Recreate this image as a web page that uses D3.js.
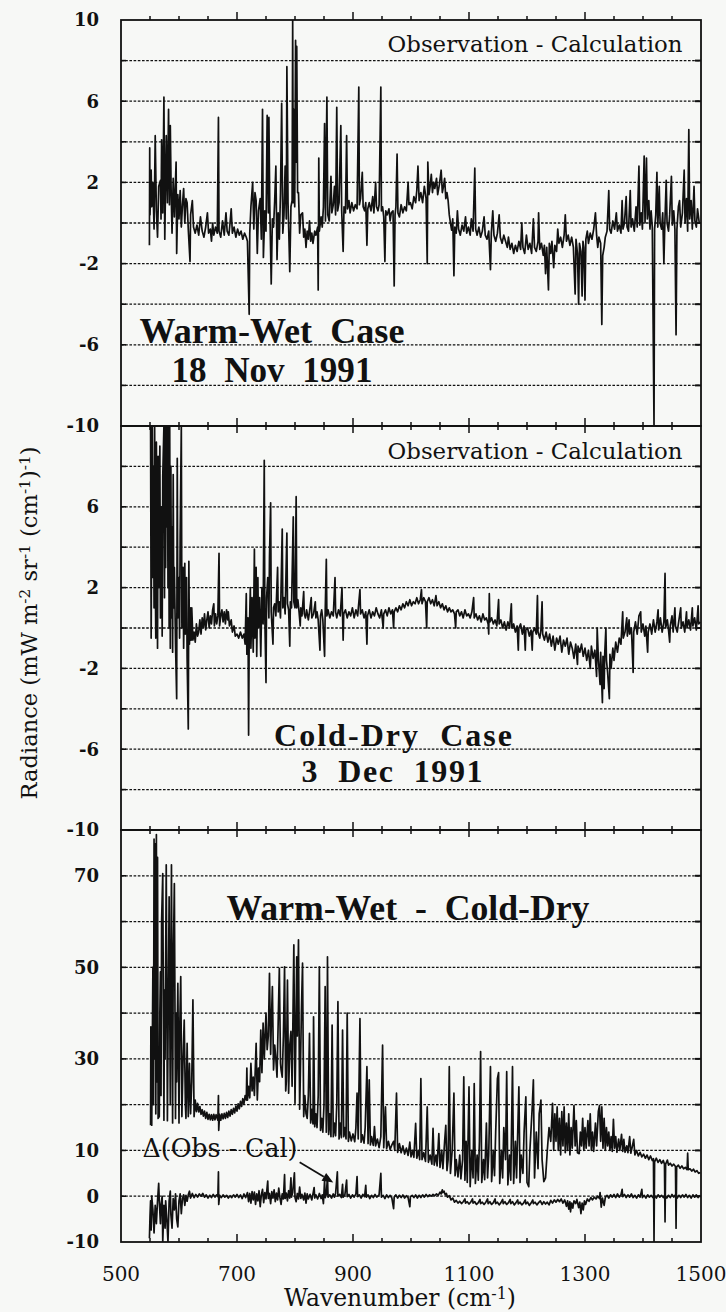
<!DOCTYPE html>
<html><head><meta charset="utf-8">
<script src="https://cdn.jsdelivr.net/npm/d3@7"></script>
<style>
html,body{margin:0;padding:0;background:#f7f8f6;}
svg{display:block;}
text{fill:#111;}
</style></head><body>
<svg id="c" width="726" height="1312"></svg>
<script>
// ---------------- data ----------------
const xLabelTicks = [500,700,900,1100,1300,1500];
const xMinorTicks = [500,550,600,650,700,750,800,850,900,950,1000,1050,1100,1150,1200,1250,1300,1350,1400,1450,1500];
const p1Labels = [10,6,2,-2,-6,-10];
const p2Labels = [6,2,-2,-6,-10];
const p3Labels = [70,50,30,10,0,-10];
const p12Grid = [-8,-6,-4,-2,0,2,4,6,8];
const p3Grid = [0,10,20,30,40,50,60,70];

// Warm-Wet case, Observation - Calculation (wavenumber, radiance)
const warmWetOC = [
[549,-1.1],[549.5,3.7],[550,0.4],[552,2.6],[553,0.8],[555,2.0],[557,-0.3],[559,4.3],[561,0.6],[563,-0.7],[565,1.8],[568,2.1],[569,0.2],[570,4.1],[572,0.5],[574,6.2],[575.5,-0.8],[578,4.3],[580,1.0],[582,5.6],[583.5,0.9],[585,4.8],[586.5,1.5],[588,-0.5],[590,2.2],[592,0.3],[595,3.0],[596,-1.5],[598,1.4],[600,0.2],[602,1.6],[604,-0.2],[606,0.9],[608,1.7],[610,0.0],[612,1.2],[614,1.0],[616,-0.3],[619,-1.9],[620,0.4],[623,1.1],[625,-0.2],[628,-0.5],[631,-0.1],[634,-0.6],[637,0.3],[640,-0.4],[643,-0.7],[646,-0.2],[649,0.5],[651,-0.5],[654,-0.3],[656,-0.9],[658,0.0],[660,-0.6],[663,-0.2],[666,-0.5],[668,5.2],[669,-0.4],[672,-0.7],[675,0.1],[678,-0.6],[681,0.5],[683,-0.4],[686,-0.6],[688,0.0],[690,0.7],[692,-0.5],[695,-0.2],[698,-0.7],[701,-0.3],[704,-0.6],[707,-0.4],[710,-0.8],[713,-0.5],[716,-0.7],[718,-0.9],[721,-4.5],[722,-0.5],[724,0.8],[727,2.0],[729,-0.3],[731,1.5],[733,1.1],[735,-1.5],[737,0.6],[740,1.2],[742,-0.8],[744,5.6],[745.5,-1.7],[748,0.6],[750,-0.4],[752,5.3],[754,0.5],[755,5.2],[756.5,0.9],[759,-3.0],[761,0.2],[763,-0.2],[765,1.1],[767,2.8],[769,-1.8],[771,0.5],[773,-0.8],[775,1.5],[777,5.9],[779,-0.5],[781,0.4],[783,2.8],[785,0.2],[786,7.7],[788,1.0],[791,-2.4],[793,0.8],[795,1.1],[796,10],[797,1.0],[798,5.6],[799.5,0.8],[801,9.0],[802,3.0],[803,8.7],[804.5,1.5],[806,1.5],[808,-0.5],[810,0.4],[813,0.5],[815,-0.7],[817,-0.3],[819,-1.2],[821,-0.4],[823,-0.8],[825,0.1],[827,-0.9],[829,-0.5],[831,-1.0],[834,-0.4],[836,-0.6],[839,-0.2],[840,-3.3],[841,3.2],[842,-0.4],[845,0.3],[847,-0.2],[849,0.8],[851,4.9],[852.5,0.1],[855,6.2],[856.5,0.4],[859,0.1],[862,2.3],[863.5,0.5],[866,0.9],[868,1.8],[870,0.4],[872,5.7],[873.5,0.6],[876,1.0],[879,4.8],[880.5,0.6],[883,-1.4],[884.5,0.8],[887,0.5],[889,4.3],[890.5,0.7],[893,1.1],[895,0.5],[898,1.0],[901,0.6],[904,0.9],[907,0.7],[910,6.7],[911,0.9],[913,1.2],[916,2.5],[917.5,0.8],[920,0.6],[922,1.0],[924,-1.1],[925.5,0.7],[928,1.0],[931,0.6],[934,1.3],[936,0.5],[939,2.0],[940.5,0.8],[943,0.6],[945,0.9],[948,6.7],[949,0.6],[951,0.8],[953,0.3],[955,-1.9],[956.5,0.6],[959,0.4],[962,0.7],[964,0.1],[966,0.5],[969,0.6],[971,-3.1],[972.5,0.4],[974,0.8],[976,3.4],[977.5,0.5],[980,0.3],[983,0.9],[986,0.5],[989,0.8],[992,0.6],[995,2.0],[996.5,0.9],[999,1.0],[1002,0.7],[1005,1.3],[1008,1.0],[1010,1.6],[1012,2.8],[1014,1.1],[1017,1.5],[1020,1.0],[1023,1.8],[1026,1.2],[1028,-2.0],[1029,3.0],[1031,1.4],[1033,1.8],[1035,2.4],[1037,1.5],[1039,2.0],[1041,1.7],[1044,2.2],[1046,1.4],[1049,1.9],[1052,2.6],[1054,1.5],[1056,1.8],[1058,2.2],[1060,1.2],[1062,1.5],[1064,1.1],[1066,0.4],[1068,0.0],[1070,-0.35],[1072,0.2],[1074,-2.6],[1075.5,-0.2],[1078,-0.5],[1080,0.6],[1082,-0.3],[1085,-0.6],[1088,-0.1],[1091,-0.4],[1094,0.3],[1096,-0.5],[1099,-0.2],[1102,-0.6],[1104,0.2],[1107,-0.4],[1110,2.7],[1111.5,-0.3],[1114,-0.6],[1117,-0.2],[1120,-0.7],[1123,-0.4],[1126,0.3],[1128,-0.6],[1131,-0.8],[1134,-0.4],[1137,-2.3],[1138.5,-0.5],[1141,0.6],[1143,-0.6],[1146,-0.9],[1149,-0.5],[1152,0.4],[1154,-0.7],[1157,-1.0],[1160,-0.6],[1163,-0.9],[1166,-1.2],[1168,-0.7],[1171,-1.3],[1174,-1.0],[1177,-1.5],[1180,-1.1],[1183,-1.4],[1186,-0.9],[1189,-1.3],[1191,0.0],[1193,-1.2],[1196,-1.5],[1199,-0.6],[1202,-1.3],[1205,-1.0],[1208,-1.5],[1211,0.2],[1213,-1.2],[1216,-1.4],[1219,-0.9],[1220,0.5],[1222,-1.3],[1225,-1.0],[1228,-1.6],[1230,-1.1],[1232,-2.5],[1234,-1.2],[1237,-3.3],[1238.5,-1.0],[1241,-1.5],[1243,-0.9],[1246,-2.2],[1248,-1.1],[1251,-1.4],[1253,-0.3],[1255,-1.0],[1258,-0.7],[1261,-1.2],[1264,-0.6],[1266,0.4],[1268,-0.9],[1271,-0.6],[1274,-1.1],[1277,-0.7],[1280,-1.2],[1283,-3.5],[1284.5,-0.8],[1287,-1.5],[1289,-4.0],[1290.5,-1.0],[1293,-1.4],[1295,-3.6],[1296.5,-0.9],[1298,-1.2],[1300,-3.8],[1301.5,-0.8],[1304,-0.4],[1306,-1.0],[1309,-0.5],[1312,-0.8],[1315,-0.3],[1318,0.5],[1320,-0.6],[1322,-1.2],[1324,-0.7],[1327,-1.0],[1329,-5.0],[1330.5,-1.6],[1333,-1.2],[1335,-0.7],[1338,-0.4],[1341,1.6],[1342.5,-0.3],[1345,-0.5],[1348,0.1],[1351,-0.3],[1354,0.5],[1356,-0.4],[1359,-0.1],[1362,-0.5],[1364,1.1],[1365.5,-0.3],[1368,0.0],[1371,1.3],[1372.5,-0.2],[1375,-0.4],[1378,1.6],[1379.5,-0.2],[1382,0.2],[1385,-0.4],[1388,0.8],[1390,-0.2],[1393,2.8],[1394.5,-0.1],[1397,0.5],[1399,-0.3],[1402,3.3],[1403.5,0.0],[1406,3.2],[1407.5,0.2],[1410,1.1],[1412,-0.3],[1414,0.6],[1416,-0.2],[1419,-10],[1420,-0.3],[1422,0.4],[1424,2.5],[1425.5,-0.2],[1428,1.8],[1429.5,0.0],[1432,-0.3],[1434,0.5],[1436,-2.0],[1437.5,-0.2],[1440,2.1],[1441.5,0.0],[1444,-0.4],[1446,0.4],[1449,2.3],[1450.5,-0.1],[1453,0.6],[1455,-0.3],[1457,-5.5],[1458.5,-0.3],[1461,0.8],[1463,1.1],[1465,-0.2],[1468,0.5],[1471,2.6],[1472.5,0.0],[1475,1.2],[1477,-0.4],[1479,4.6],[1480.5,0.2],[1483,1.1],[1485,-0.3],[1488,1.8],[1489.5,0.1],[1492,-0.2],[1494,0.7],[1497,0.0]
];

// Cold-Dry case, Observation - Calculation
const coldDryOC = [
[551,10],[552,-0.5],[553,6.0],[554,10],[555,2.5],[556,8.0],[557,1.0],[558,10],[559,3.0],[560,-0.5],[561,9.2],[562,4.0],[563,-1.0],[564,8.5],[565,2.0],[567,9.0],[568,0.5],[570,6.0],[571,-0.4],[572,7.5],[574,10],[575,1.5],[576,10],[577,3.0],[578,10],[579,5.0],[580,10],[581,2.0],[582,10],[583,0.0],[584,10],[585,-1.0],[586,8.0],[587,0.5],[588,5.0],[589,-1.2],[590,7.6],[591,1.0],[592,3.0],[594,-0.8],[596,-3.5],[597,8.4],[598,0.5],[600,2.5],[601,-0.5],[602,4.5],[604,10],[605,0.0],[607,3.0],[608,-1.0],[610,3.2],[611,-0.3],[613,2.5],[614,-1.5],[616,-5.0],[617,3.3],[618,-0.8],[620,1.0],[621,-0.6],[622,1.0],[624,-0.6],[626,-0.2],[628,-0.7],[630,0.2],[632,-0.4],[634,-0.2],[636,0.4],[638,-0.3],[640,0.5],[642,0.0],[644,0.7],[646,-0.1],[648,0.4],[650,0.8],[652,0.0],[654,0.6],[656,0.2],[658,0.9],[660,1.2],[661,0.1],[663,0.7],[665,0.2],[667,0.6],[669,3.7],[670,0.1],[672,0.6],[674,0.9],[676,0.3],[678,0.8],[680,0.2],[682,0.9],[684,0.4],[685,0.8],[687,0.1],[690,0.4],[692,-0.2],[695,0.1],[697,-0.4],[700,-0.3],[703,-0.5],[706,-0.2],[709,-0.5],[712,-0.3],[714,-0.8],[716,1.7],[717,-1.3],[719,0.5],[720,-5.3],[721,-0.5],[723,2.0],[724,-1.0],[726,1.5],[728,-1.2],[730,3.9],[731,-0.5],[733,3.0],[734,-1.4],[736,2.5],[737,0.0],[739,1.5],[741,-1.4],[743,2.0],[745,0.2],[747,8.3],[748,0.5],[750,-2.7],[751,1.5],[753,2.5],[755,0.5],[756,3.5],[758,6.2],[759,0.8],[762,-0.8],[763,1.0],[765,1.2],[767,0.6],[770,3.0],[771,0.8],[773,1.3],[775,0.5],[778,4.9],[779,1.0],[781,1.5],[783,0.7],[786,4.7],[787,1.2],[789,0.9],[791,-0.9],[792,1.3],[794,1.0],[797,5.5],[798,1.3],[800,1.0],[802,6.5],[803,1.0],[805,1.4],[807,0.8],[809,0.1],[810,1.0],[812,0.6],[815,1.8],[816,0.7],[818,0.5],[820,0.9],[823,0.4],[825,0.8],[828,1.5],[829,0.5],[832,0.7],[835,1.3],[836,0.5],[838,0.8],[840,0.4],[843,-1.1],[844,0.6],[846,0.9],[848,0.4],[851,-1.4],[852,0.7],[854,3.4],[855,0.6],[857,0.9],[860,0.5],[863,0.8],[866,0.6],[869,2.5],[870,0.8],[872,0.5],[875,0.9],[878,0.6],[881,2.0],[882,0.6],[883,-0.6],[884,0.7],[887,0.9],[890,0.5],[893,0.8],[896,0.6],[899,1.0],[902,0.5],[905,0.9],[908,0.6],[912,1.9],[913,0.7],[916,0.9],[919,0.5],[922,0.8],[924,-0.8],[925,0.6],[928,0.9],[931,0.5],[934,0.8],[937,0.6],[940,1.0],[943,0.7],[946,0.5],[949,0.9],[952,0.0],[953,0.7],[956,0.9],[959,0.6],[962,1.0],[965,0.7],[968,0.9],[970,0.0],[971,0.8],[974,1.0],[977,0.8],[980,1.1],[983,0.9],[986,1.2],[989,1.0],[992,1.3],[995,1.1],[998,1.4],[1001,1.1],[1004,1.3],[1007,1.2],[1010,1.5],[1013,1.2],[1016,1.4],[1018,1.9],[1019,1.2],[1022,1.5],[1025,1.3],[1027,0.0],[1028,1.3],[1031,1.5],[1034,1.2],[1037,1.4],[1040,1.1],[1043,1.6],[1045,1.1],[1048,1.3],[1051,1.0],[1054,1.2],[1057,0.9],[1060,1.1],[1063,0.8],[1066,1.0],[1069,0.8],[1072,0.9],[1075,0.7],[1077,0.0],[1078,0.8],[1081,0.9],[1084,0.6],[1087,0.8],[1090,0.5],[1093,0.9],[1096,0.6],[1099,0.7],[1102,0.5],[1105,0.8],[1108,1.5],[1109,0.5],[1112,0.7],[1115,0.4],[1118,0.6],[1121,0.3],[1124,0.7],[1127,0.4],[1130,0.5],[1133,0.2],[1134,-0.3],[1135,1.7],[1136,0.3],[1139,0.5],[1142,0.2],[1145,0.4],[1148,0.1],[1151,1.4],[1152,0.2],[1155,0.4],[1158,0.0],[1161,0.3],[1164,-0.1],[1167,0.3],[1170,0.0],[1173,1.2],[1174,0.0],[1177,0.2],[1180,-0.2],[1183,0.1],[1185,-1.1],[1186,0.0],[1189,0.2],[1192,-0.3],[1195,0.1],[1197,-1.1],[1198,-0.1],[1201,0.0],[1204,-0.4],[1207,-0.1],[1209,-1.1],[1210,-0.2],[1213,0.0],[1216,-0.3],[1218,1.6],[1219,-0.2],[1222,-0.5],[1224,-0.1],[1226,1.3],[1227,-0.3],[1230,-0.6],[1233,-0.2],[1236,-0.7],[1239,-0.3],[1242,-0.9],[1245,-0.4],[1248,-1.1],[1251,-0.5],[1254,-0.8],[1257,-0.4],[1260,-1.2],[1263,-0.6],[1266,-0.9],[1269,-0.5],[1272,-1.3],[1275,-0.7],[1278,-1.0],[1281,-1.5],[1284,-0.8],[1287,-1.8],[1288,-0.9],[1291,-1.2],[1294,-0.8],[1297,-1.4],[1300,-1.0],[1303,-1.6],[1306,-1.1],[1309,-2.0],[1311,-0.9],[1314,-1.5],[1317,-1.1],[1320,-2.4],[1321,0.0],[1323,-1.5],[1326,-2.8],[1327,-1.2],[1330,-3.7],[1331,-1.4],[1333,-3.0],[1334,-1.3],[1336,0.0],[1337,-1.6],[1339,-2.2],[1342,-3.5],[1343,-1.3],[1345,-2.0],[1348,-1.0],[1350,-1.6],[1353,-0.7],[1356,-1.2],[1359,-0.5],[1362,-0.8],[1365,0.8],[1366,-0.5],[1369,-0.2],[1372,0.5],[1373,-0.4],[1376,0.4],[1377,-0.3],[1380,0.0],[1383,-2.2],[1384,-0.2],[1387,0.3],[1390,-0.3],[1393,0.6],[1396,0.8],[1397,-0.2],[1400,0.2],[1403,-0.4],[1405,0.1],[1408,-1.2],[1409,-0.2],[1412,0.2],[1415,-0.3],[1418,0.4],[1421,-0.2],[1424,0.3],[1426,0.9],[1427,-0.1],[1430,0.5],[1433,-0.2],[1436,0.3],[1438,2.7],[1439,0.0],[1442,0.4],[1444,-0.1],[1446,-0.7],[1447,0.1],[1450,0.6],[1452,-0.2],[1455,1.0],[1456,0.1],[1459,-0.2],[1462,0.4],[1465,1.0],[1466,0.0],[1469,0.3],[1472,-0.2],[1475,0.8],[1476,0.0],[1479,0.4],[1482,-0.1],[1485,1.0],[1486,0.1],[1489,0.5],[1492,-0.1],[1495,1.1],[1496,0.2],[1499,0.3]
];

// Warm-Wet minus Cold-Dry (observed)
const warmMinusCold = [
[551,15.5],[551.5,37],[553,15.5],[555,50],[556,20],[557,78],[558,30],[559,77],[560,18],[561,79],[562,25],[563,74],[564,17],[566,17.4],[567,40],[568,49],[569,22],[570,60],[572,70.5],[574,16.6],[575,45],[576,30],[578,72.4],[580,16.5],[582,50],[583,65.4],[585,20],[587,72.4],[589,16],[590,50],[592,68.3],[594,17],[595,40],[596,25],[598,46.5],[600,16],[601,35],[603,48],[605,17.4],[607,30],[609,38.5],[611,20],[612,17],[614,33.4],[616,17.4],[618,29],[620,18],[622,25],[624,42.9],[626,17.4],[628,21],[630,18.5],[632,20.3],[634,18.4],[636,19.6],[638,17.9],[640,18.9],[642,17.5],[644,18.6],[646,17.0],[648,18.3],[650,16.8],[652,17.9],[654,16.7],[656,17.8],[658,16.6],[660,17.9],[662,16.7],[664,17.8],[667,16.6],[668,22],[668.5,14.4],[670,17.9],[672,16.6],[674,18.0],[676,16.9],[678,18.1],[680,17.0],[682,18.3],[684,17.2],[686,18.6],[688,17.5],[690,18.9],[692,17.9],[694,19.2],[696,18.2],[698,19.7],[700,18.6],[702,20.2],[704,19.1],[706,20.7],[708,19.6],[710,21.3],[712,20.2],[714,22.0],[716,21.0],[717,28],[718,21],[720,24],[722,21.5],[724,29],[726,23],[728,26],[730,22],[733,33.4],[735,21],[737,28],[739,25],[741,36.3],[743,27],[745,37.8],[747,30],[750,40],[752,32],[754,35],[756,48.7],[758,31],[759,37],[761,45.8],[763,27.6],[765,33],[767,30],[769,26],[771,38],[773,49.8],[775,29],[776,27.6],[778,26],[780,35],[782,50.1],[784,23],[785,25],[787,47.2],[789,22.5],[791,33],[793,36],[795,24],[798,54.9],[800,20.3],[801,30],[803,52.3],[804,35],[806,56],[808,19],[809,25],[811,40],[813,50.9],[815,17.4],[817,22],[819,18],[821,17],[823,22],[825,35.6],[827,16],[829,19],[831,15.8],[832,39.2],[834,15.2],[836,18],[838,15],[840,22],[842,50.1],[844,14.4],[846,17],[848,14],[850,20],[852,45.8],[854,14],[855,20],[856,52.3],[858,13.5],[860,18],[862,13],[864,37.4],[866,13],[868,16],[870,13.2],[872,20],[874,42.5],[876,12.5],[878,16],[880,12.8],[882,36.3],[884,13],[886,15],[888,12.5],[890,40],[892,12],[894,14],[897,12.1],[900,13.6],[903,11.9],[905,15],[907,22.5],[909,12.5],[912,38.8],[914,11.8],[916,13.4],[919,11.6],[921,15],[924,28.3],[926,11.5],[928,25.4],[930,11.2],[932,13],[935,11.1],[937,15.2],[939,11],[942,12.5],[945,10.6],[948,13],[951,33],[953,10.6],[956,19.5],[958,10.4],[961,12],[964,10.2],[967,11.2],[970,12],[972,10],[975,22.5],[977,9.6],[980,11.5],[983,9.5],[986,11],[989,9.2],[992,10.5],[995,8.9],[998,11.8],[1000,8.6],[1003,10],[1005,8.5],[1008,15.9],[1010,8.3],[1013,10],[1015,8.0],[1017,25.7],[1019,8.0],[1022,9.5],[1025,7.6],[1028,19.5],[1030,7.4],[1033,9],[1036,7.0],[1038,14.8],[1040,6.8],[1043,9],[1045,6.6],[1048,13.7],[1050,6.3],[1053,10],[1055,6.0],[1058,12],[1060,15.5],[1062,5.6],[1064,8],[1066,28.3],[1068,5.0],[1071,10],[1074,22.5],[1076,4.5],[1078,8],[1081,4.2],[1084,9],[1086,3.8],[1089,8],[1091,26.1],[1093,3.5],[1095,12],[1097,3.0],[1100,23.9],[1102,2.1],[1105,10],[1107,4.0],[1109,24.6],[1111,2.8],[1114,9],[1116,3.5],[1118,12],[1120,31.6],[1122,3.0],[1125,8],[1127,3.6],[1130,16],[1132,4.0],[1134,9],[1137,28.3],[1139,3.2],[1142,10],[1144,4.5],[1146,14],[1149,25.7],[1151,27],[1153,2.8],[1156,10],[1158,4.0],[1160,15],[1163,8],[1165,27.2],[1167,2.5],[1170,9],[1172,3.5],[1175,28.3],[1177,2.8],[1180,12],[1182,4.0],[1186,23.9],[1188,3.0],[1190,9],[1193,5],[1195,14],[1198,21.7],[1200,3.0],[1203,2.1],[1205,10],[1209,19.5],[1211,25.4],[1213,4],[1216,14],[1219,6],[1221,18],[1224,21],[1226,8],[1229,3.2],[1232,4],[1235,10],[1238,15],[1241,12],[1244,20.3],[1246,10],[1248,18],[1250,12],[1252,19.5],[1254,10],[1256,17],[1258,9],[1260,18.5],[1262,11],[1264,19.5],[1266,9.5],[1268,16],[1270,10],[1272,18],[1274,9],[1276,15],[1278,10.5],[1281,19.8],[1283,11],[1285,16.5],[1287,9.5],[1290,9.3],[1292,14],[1294,11],[1296,17],[1298,10],[1300,15],[1302,10.5],[1305,16.5],[1307,11],[1309,18],[1311,10],[1313,14],[1315,9.8],[1318,16],[1320,11],[1323,18.5],[1325,19.8],[1327,12],[1329,19.5],[1331,10.5],[1333,17],[1335,10],[1337,15],[1339,11],[1341,14],[1343,10],[1345,13],[1347,9.8],[1349,16.8],[1351,10.5],[1353,13],[1355,9.6],[1358,12.5],[1360,10],[1363,13.5],[1365,9.8],[1367,12.4],[1369,9.6],[1372,11],[1374,9.5],[1377,13],[1379,9.4],[1381,10.5],[1384,12.4],[1386,9.0],[1389,10],[1392,8.8],[1395,9.6],[1398,8.6],[1401,9.2],[1404,8.3],[1407,9.0],[1410,8.0],[1413,8.8],[1416,7.8],[1418,8.2],[1419,-10],[1420,7.5],[1423,8.3],[1426,7.4],[1429,8.0],[1432,7.2],[1435,7.8],[1437,7.0],[1438,-5.6],[1439,7.0],[1442,7.9],[1444,6.8],[1447,7.2],[1450,6.6],[1453,7.0],[1456,6.5],[1457,-7.0],[1458,6.4],[1461,6.8],[1464,6.1],[1467,6.6],[1470,6.0],[1473,6.3],[1476,5.8],[1477,9.4],[1478,5.8],[1481,6.0],[1484,5.5],[1487,5.9],[1490,5.3],[1493,5.6],[1496,5.0],[1499,5.2]
];

// Delta(Obs - Cal)
const deltaObsCal = [
[549,-9.2],[550,-4.5],[551,-1],[552,-7.4],[553,0],[555,-3],[557,-8],[559,-2],[561,-6],[563,-1],[565,2.8],[566,-1],[568,-6],[569,-2],[571,0],[572,-10],[574,-2],[576,-7],[577,-1],[579,-5],[581,-10],[583,-1],[585,1.1],[586,-4],[588,-7],[590,-0.5],[592,-3],[594,0.5],[596,-5],[598,-6.7],[600,-1],[602,0.5],[604,-3.8],[606,-0.5],[608,0.3],[610,-2],[612,0.2],[614,-1.1],[616,0.3],[618,1.1],[620,-0.4],[623,0.6],[626,-0.3],[629,0.4],[632,-0.2],[635,0.5],[638,0.0],[641,0.6],[644,-0.2],[647,0.3],[650,-0.4],[653,0.2],[656,-0.3],[659,0.4],[662,-0.2],[665,0.3],[667,-0.1],[668,5.3],[668.5,-1.8],[670,0.2],[673,-0.3],[676,0.3],[679,-0.2],[682,0.2],[685,-0.4],[688,0.1],[691,-0.3],[694,0.3],[697,-0.2],[700,0.4],[703,-0.3],[706,0.3],[709,-0.5],[712,0.5],[715,-0.3],[718,0.8],[720,-1.2],[722,0.6],[724,-1.5],[726,1.0],[728,-0.8],[730,0.9],[732,-1.8],[734,0.5],[736,-1.0],[738,1.2],[740,-2.3],[742,0.3],[744,1.5],[746,-1.4],[748,0.8],[750,-0.6],[753,3.3],[754,-0.5],[756,0.6],[758,-1.6],[760,1.0],[762,-0.4],[764,1.4],[766,-1.2],[768,0.7],[770,-0.8],[772,1.8],[774,-0.3],[776,-1.8],[778,0.5],[780,-0.6],[782,4.7],[783,-0.5],[785,0.7],[787,-1.0],[789,1.2],[791,-0.4],[793,4.0],[794,-0.2],[796,0.8],[799,5.1],[800,-0.3],[802,-1.2],[804,0.6],[806,-0.6],[808,2.0],[810,-0.5],[812,0.4],[815,-0.8],[817,0.7],[819,-1.5],[821,0.5],[823,-0.6],[826,0.4],[829,-0.8],[831,0.5],[833,1.9],[834,-0.4],[836,0.3],[839,-0.6],[842,0.6],[845,-0.5],[847,0.3],[849,-1.6],[851,3.5],[852,-0.3],[854,0.4],[856,4.3],[857,-0.2],[860,0.3],[863,-0.4],[866,0.5],[868,-0.2],[870,0.6],[873,5.3],[874,0.0],[877,0.4],[880,-0.3],[882,2.6],[883,-0.2],[886,0.3],[889,3.5],[890,-0.1],[893,0.4],[896,-0.4],[899,0.3],[902,-0.2],[905,0.5],[907,4.3],[908,-0.1],[911,0.3],[914,-0.4],[917,0.4],[920,-0.1],[922,2.4],[923,-0.2],[926,0.3],[929,-0.5],[932,0.2],[935,-0.3],[938,0.4],[941,-0.2],[945,0.3],[948,5.0],[949,-0.2],[952,0.2],[955,-0.5],[958,0.3],[961,-0.3],[964,0.2],[967,-0.4],[970,-2.7],[971,-0.2],[974,0.3],[977,-0.4],[980,0.2],[983,-0.3],[986,0.3],[989,-0.4],[992,0.1],[995,-0.3],[998,-2.3],[999,-0.1],[1002,0.2],[1005,-0.3],[1008,0.3],[1011,-0.4],[1014,0.2],[1017,-0.3],[1020,0.3],[1023,-0.2],[1026,0.4],[1029,-0.1],[1032,0.3],[1035,0.0],[1038,0.4],[1041,0.1],[1044,0.5],[1047,0.2],[1050,0.9],[1052,0.5],[1054,1.4],[1055,0.8],[1057,1.1],[1059,0.3],[1061,0.6],[1063,-0.2],[1066,0.1],[1069,-0.8],[1072,-0.4],[1075,-1.3],[1078,-0.9],[1081,-1.5],[1084,-1.1],[1087,-1.6],[1090,-1.2],[1093,-0.6],[1094,-1.5],[1097,-1.2],[1100,-1.7],[1103,-1.3],[1106,-0.6],[1107,-1.5],[1110,-1.2],[1113,-1.8],[1116,-1.4],[1119,-0.7],[1120,-1.6],[1123,-1.3],[1126,-1.8],[1129,-1.3],[1132,-0.6],[1133,-1.6],[1136,-1.2],[1139,-1.8],[1142,-1.4],[1145,-0.6],[1146,-1.6],[1149,-1.3],[1152,-1.9],[1155,-1.4],[1158,-0.7],[1159,-1.6],[1162,-1.2],[1165,-1.8],[1168,-1.4],[1171,-0.7],[1172,-1.6],[1175,-1.2],[1178,-1.9],[1181,-1.4],[1184,-0.8],[1185,-1.7],[1188,-1.3],[1191,-1.9],[1194,-1.5],[1197,-0.8],[1198,-1.7],[1201,-1.3],[1204,-2.0],[1207,-1.5],[1210,-0.8],[1211,-1.6],[1214,-1.3],[1217,-1.9],[1220,-1.4],[1223,-1.0],[1226,-1.8],[1229,-1.2],[1232,-1.7],[1235,-1.3],[1238,-1.9],[1241,-0.9],[1244,-1.5],[1247,-0.8],[1250,-1.3],[1253,-0.7],[1256,-1.2],[1259,-0.6],[1262,-1.5],[1265,-0.8],[1268,-2.2],[1270,-1.0],[1272,-2.8],[1274,-1.2],[1275,-3.4],[1277,-1.5],[1279,-2.6],[1281,-1.0],[1284,-1.6],[1286,-0.7],[1289,-2.5],[1291,-1.3],[1293,-3.8],[1295,-1.5],[1297,-3.0],[1299,-1.0],[1301,-1.8],[1304,-0.6],[1307,-1.1],[1310,-0.3],[1313,-0.8],[1316,-0.2],[1319,-0.6],[1322,0.0],[1325,-0.5],[1326,0.8],[1328,-2.4],[1330,-0.4],[1333,-2.0],[1335,-0.3],[1338,0.2],[1341,-0.4],[1344,0.3],[1347,-0.2],[1350,0.4],[1353,-0.3],[1356,0.5],[1359,-0.2],[1362,0.3],[1364,1.5],[1365,-0.1],[1368,0.4],[1371,-0.3],[1374,0.3],[1377,-0.2],[1380,0.5],[1383,-0.3],[1386,0.2],[1389,-0.4],[1392,0.3],[1395,-0.2],[1398,1.5],[1399,-0.3],[1402,0.2],[1405,-0.4],[1408,0.3],[1411,-0.2],[1414,0.2],[1417,-0.3],[1420,0.1],[1423,-0.4],[1426,0.3],[1429,-0.2],[1432,0.2],[1435,-0.3],[1438,0.3],[1441,-0.4],[1444,0.2],[1447,-0.3],[1450,0.4],[1453,-0.2],[1456,0.3],[1459,-0.4],[1462,0.2],[1465,-0.3],[1468,0.3],[1471,-0.2],[1474,0.4],[1477,-0.3],[1480,0.2],[1483,-0.4],[1486,0.3],[1489,-0.2],[1492,0.3],[1495,-0.3],[1498,0.2]
];

// annotation arrow: from / to (wavenumber, value) in the bottom panel
const arrowFrom = [808, 7.4];
const arrowTo = [866, 3.0];

// ---------------- drawing ----------------
const svg = d3.select('#c');
const L = 121, R = 701;
const x = d3.scaleLinear().domain([500,1500]).range([L,R]);
const panels = [
  {top:20, bottom:426, domain:[-10,10], grid:p12Grid, labels:p1Labels, data:[warmWetOC]},
  {top:426, bottom:830, domain:[-10,10], grid:p12Grid, labels:p2Labels, data:[coldDryOC]},
  {top:830, bottom:1242, domain:[-10,80], grid:p3Grid, labels:p3Labels, data:[warmMinusCold, deltaObsCal]}
];
const serif = "'DejaVu Serif', 'Liberation Serif', serif";
const bold = "'Liberation Serif', 'DejaVu Serif', serif";
const ink = '#111';

svg.append('rect').attr('width',726).attr('height',1312).attr('fill','#f7f8f6');

panels.forEach((p,i)=>{
  p.y = d3.scaleLinear().domain(p.domain).range([p.bottom,p.top]);
  const g = svg.append('g');
  g.selectAll('line.grid').data(p.grid).join('line')
    .attr('x1',L).attr('x2',R).attr('y1',d=>p.y(d)).attr('y2',d=>p.y(d))
    .attr('stroke',ink).attr('stroke-width',1.3).attr('stroke-dasharray','2.6,1.6');
  g.selectAll('line.yl').data(p.grid).join('line')
    .attr('x1',L).attr('x2',L+5).attr('y1',d=>p.y(d)).attr('y2',d=>p.y(d))
    .attr('stroke',ink).attr('stroke-width',1.6);
  g.selectAll('line.yr').data(p.grid).join('line')
    .attr('x1',R-6).attr('x2',R).attr('y1',d=>p.y(d)).attr('y2',d=>p.y(d))
    .attr('stroke',ink).attr('stroke-width',2);
  const cid = 'clip'+i;
  svg.append('clipPath').attr('id',cid).append('rect')
    .attr('x',L).attr('y',p.top).attr('width',R-L).attr('height',p.bottom-p.top);
  const line = d3.line().x(d=>x(d[0])).y(d=>p.y(d[1]));
  p.data.forEach(ser=>{
    g.append('path').datum(ser).attr('d',line).attr('clip-path',`url(#${cid})`)
      .attr('fill','none').attr('stroke',ink).attr('stroke-width',1.7)
      .attr('stroke-linejoin','round');
  });
  g.append('rect').attr('x',L).attr('y',p.top).attr('width',R-L).attr('height',p.bottom-p.top)
    .attr('fill','none').attr('stroke',ink).attr('stroke-width',1.8);
  g.selectAll('text.yt').data(p.labels).join('text')
    .attr('x',L-22).attr('y',d=>p.y(d)).attr('dy','0.36em')
    .attr('text-anchor','end').attr('font-family',serif).attr('font-weight','bold')
    .attr('font-size',18).text(d=>d);
});

// x ticks along each horizontal border
const borders = [
  {y:20, up:true, down:false},
  {y:426, up:true, down:true},
  {y:830, up:true, down:true},
  {y:1242, up:true, down:false}
];
borders.forEach(b=>{
  svg.append('g').selectAll('line').data(xMinorTicks.filter(t=>t>500 && t<1500)).join('line')
    .attr('x1',d=>x(d)).attr('x2',d=>x(d))
    .attr('y1',d=> b.y - (b.up ? (xLabelTicks.includes(d)?8:4) : 0))
    .attr('y2',d=> b.y + (b.down ? (xLabelTicks.includes(d)?7:4) : 0))
    .attr('stroke',ink).attr('stroke-width',1.5);
});

// x tick labels
svg.append('g').selectAll('text').data(xLabelTicks).join('text')
  .attr('x',d=>x(d)).attr('y',1281).attr('text-anchor','middle')
  .attr('font-family',serif).attr('font-size',20).text(d=>d);

// fit a text/tspan to a target width; optional max font size (then spacing fills the width)
function fit(sel, target, maxSize){
  const n = sel.node();
  const len = n.getComputedTextLength();
  const fs = parseFloat(sel.attr('font-size'));
  if (len>0){
    let f = fs*target/len;
    if (maxSize && f>maxSize){
      f = maxSize;
      sel.attr('textLength',target).attr('lengthAdjust','spacing');
    }
    sel.attr('font-size', f.toFixed(2));
  }
  return sel;
}
function caption(lines, fam, weight){
  const t = svg.append('text').attr('text-anchor','middle')
    .attr('font-family',fam).attr('font-weight',weight).style('white-space','pre');
  lines.forEach(l=>{
    const s = t.append('tspan').attr('x',l.cx).attr('y',l.by).attr('font-size',l.size).text(l.txt);
    fit(s, l.w, l.max);
  });
  return t;
}
caption([{txt:'Observation - Calculation', cx:535, by:52, size:18, w:295}], serif, 'normal');
caption([{txt:'Observation - Calculation', cx:535, by:459, size:18, w:295}], serif, 'normal');
caption([{txt:'Warm-Wet  Case', cx:272, by:343, size:34, w:265},
         {txt:'18  Nov  1991', cx:272, by:382, size:34, w:201}], bold, 'bold');
caption([{txt:'Cold-Dry  Case', cx:393, by:746, size:32, w:238, max:32},
         {txt:'3  Dec  1991', cx:392, by:782, size:32, w:181, max:32}], bold, 'bold');
caption([{txt:'Warm-Wet  -  Cold-Dry', cx:408, by:920, size:34, w:363}], bold, 'bold');
caption([{txt:'\u0394(Obs - Cal)', cx:220, by:1157, size:20, w:155}], serif, 'normal');

// arrow
const p3 = panels[2];
const ax1 = x(arrowFrom[0]), ay1 = p3.y(arrowFrom[1]);
const ax2 = x(arrowTo[0]), ay2 = p3.y(arrowTo[1]);
const ang = Math.atan2(ay2-ay1, ax2-ax1);
const hl = 11, hw = 4.5;
const bx = ax2-hl*Math.cos(ang), by = ay2-hl*Math.sin(ang);
svg.append('line').attr('x1',ax1).attr('y1',ay1).attr('x2',bx).attr('y2',by)
  .attr('stroke',ink).attr('stroke-width',1.7);
svg.append('path').attr('d',
  `M${ax2},${ay2}L${bx+hw*Math.sin(ang)},${by-hw*Math.cos(ang)}L${bx-hw*Math.sin(ang)},${by+hw*Math.cos(ang)}Z`)
  .attr('fill',ink);

// axis titles
const yl = svg.append('text').attr('transform','translate(37,623) rotate(-90)')
  .attr('text-anchor','middle').attr('font-family',serif).attr('font-size',17);
yl.append('tspan').text('Radiance (mW m');
yl.append('tspan').attr('dy',-7).attr('font-size','0.68em').text('-2');
yl.append('tspan').attr('dy',7).text(' sr');
yl.append('tspan').attr('dy',-7).attr('font-size','0.68em').text('-1');
yl.append('tspan').attr('dy',7).text(' (cm');
yl.append('tspan').attr('dy',-7).attr('font-size','0.68em').text('-1');
yl.append('tspan').attr('dy',7).text(')');
yl.append('tspan').attr('dy',-7).attr('font-size','0.68em').text('-1');
yl.append('tspan').attr('dy',7).text(')');
fit(yl, 353);

const xl = svg.append('text').attr('x',400).attr('y',1306)
  .attr('text-anchor','middle').attr('font-family',serif).attr('font-size',18);
xl.append('tspan').text('Wavenumber (cm');
xl.append('tspan').attr('dy',-7).attr('font-size','0.68em').text('-1');
xl.append('tspan').attr('dy',7).text(')');
fit(xl, 232);
</script>
</body></html>
